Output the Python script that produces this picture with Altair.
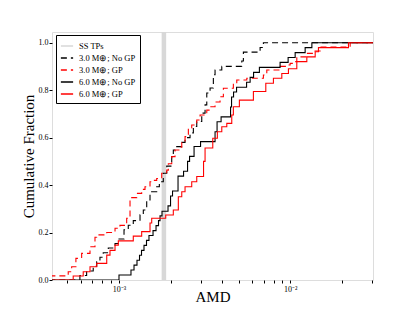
import altair as alt
import pandas as pd

series_names = ["SS TPs", "3.0 M⊕; No GP", "3.0 M⊕; GP", "6.0 M⊕; No GP", "6.0 M⊕; GP"]
series_colors = ["#d8d8d8", "#000000", "#ff0000", "#000000", "#ff0000"]
series_dashes = [[1, 0], [6, 4], [6, 4], [1, 0], [1, 0]]

ss_tp_amd = [1.83e-3]

# 3.0 M_earth; No GP (black dashed)
bd_x = [5.91e-4, 6.47e-4, 7.07e-4, 7.41e-4, 7.74e-4, 8.09e-4, 8.66e-4, 9.48e-4, 1.000e-3,
        1.070e-3, 1.133e-3, 1.212e-3, 1.327e-3, 1.387e-3, 1.452e-3, 1.518e-3, 1.661e-3,
        1.721e-3, 1.815e-3, 1.901e-3, 2.033e-3, 2.077e-3, 2.175e-3, 2.327e-3, 2.432e-3,
        2.601e-3, 2.720e-3, 2.847e-3, 3.045e-3, 3.184e-3, 3.258e-3, 3.406e-3, 3.560e-3,
        3.642e-3, 3.987e-3, 5.218e-3, 5.332e-3, 6.677e-3, 6.980e-3]
bd_y = [0.019, 0.038, 0.058, 0.077, 0.096, 0.115, 0.135, 0.154, 0.173, 0.212, 0.231, 0.25,
        0.275, 0.295, 0.337, 0.372, 0.393, 0.414, 0.45, 0.48, 0.52, 0.548, 0.562, 0.58, 0.6,
        0.62, 0.647, 0.668, 0.703, 0.738, 0.788, 0.809, 0.865, 0.885, 0.9, 0.923, 0.96, 0.98, 1.0]
bd_start = 0.0

# 3.0 M_earth; GP (red dashed)
rd_x = [5.05e-4, 5.29e-4, 5.60e-4, 6.05e-4, 6.77e-4, 7.24e-4, 7.41e-4, 8.48e-4, 9.48e-4,
        1.013e-3, 1.109e-3, 1.160e-3, 1.187e-3, 1.269e-3, 1.357e-3, 1.419e-3, 1.518e-3,
        1.553e-3, 1.661e-3, 1.777e-3, 1.901e-3, 1.942e-3, 2.033e-3, 2.126e-3, 2.274e-3,
        2.327e-3, 2.432e-3, 2.543e-3, 2.661e-3, 2.847e-3, 2.977e-3, 3.258e-3, 3.406e-3,
        3.642e-3, 3.896e-3, 4.073e-3, 4.659e-3, 4.878e-3, 5.582e-3, 6.980e-3, 7.306e-3,
        8.738e-3, 9.566e-3, 1.000e-2, 1.045e-2, 1.094e-2, 1.252e-2, 1.369e-2, 1.497e-2, 2.243e-2]
rd_y = [0.035, 0.056, 0.091, 0.112, 0.14, 0.18, 0.19, 0.2, 0.218, 0.23, 0.26, 0.337, 0.347,
        0.365, 0.382, 0.393, 0.414, 0.42, 0.428, 0.45, 0.463, 0.49, 0.52, 0.548, 0.56, 0.583,
        0.604, 0.64, 0.653, 0.674, 0.695, 0.716, 0.73, 0.75, 0.772, 0.808, 0.829, 0.843, 0.85,
        0.864, 0.885, 0.9, 0.906, 0.913, 0.92, 0.94, 0.955, 0.965, 0.982, 1.0]
rd_start = 0.0175

# 6.0 M_earth; No GP (black solid)
bs_x = [1.000e-3, 1.175e-3, 1.224e-3, 1.274e-3, 1.318e-3, 1.354e-3, 1.400e-3, 1.448e-3,
        1.497e-3, 1.581e-3, 1.646e-3, 1.702e-3, 1.737e-3, 1.784e-3, 1.934e-3, 2.001e-3,
        2.055e-3, 2.213e-3, 2.384e-3, 2.516e-3, 2.585e-3, 2.746e-3, 2.997e-3, 3.642e-3,
        3.742e-3, 3.950e-3, 4.487e-3, 4.548e-3, 4.672e-3, 4.865e-3, 5.567e-3, 5.839e-3,
        6.116e-3, 6.614e-3, 8.738e-3, 9.734e-3, 1.070e-2, 1.224e-2, 1.340e-2]
bs_y = [0.021, 0.042, 0.0625, 0.083, 0.104, 0.125, 0.146, 0.167, 0.1875, 0.208, 0.229, 0.25,
        0.27, 0.29, 0.3125, 0.354, 0.375, 0.4375, 0.458, 0.5, 0.521, 0.5625, 0.583, 0.625,
        0.667, 0.6875, 0.729, 0.771, 0.792, 0.8125, 0.833, 0.854, 0.875, 0.896, 0.917,
        0.9375, 0.958, 0.979, 1.0]
bs_start = 0.0

# 6.0 M_earth; GP (red solid)
rs_x = [5.40e-4, 6.18e-4, 6.77e-4, 7.41e-4, 8.48e-4, 8.86e-4, 9.48e-4, 9.91e-4, 1.212e-3,
        1.357e-3, 1.518e-3, 1.553e-3, 1.875e-3, 2.077e-3, 2.222e-3, 2.327e-3, 2.432e-3,
        2.661e-3, 2.847e-3, 3.120e-3, 3.184e-3, 3.532e-3, 3.757e-3, 3.987e-3, 4.265e-3,
        4.560e-3, 4.659e-3, 5.052e-3, 6.101e-3, 7.209e-3, 7.987e-3, 8.942e-3, 9.775e-3,
        1.094e-2, 1.252e-2, 1.401e-2, 1.464e-2, 2.192e-2]
rs_y = [0.017, 0.035, 0.056, 0.07, 0.105, 0.125, 0.147, 0.165, 0.185, 0.204, 0.24, 0.26,
        0.274, 0.295, 0.351, 0.372, 0.393, 0.414, 0.436, 0.5, 0.556, 0.597, 0.625, 0.646,
        0.66, 0.695, 0.73, 0.758, 0.794, 0.829, 0.85, 0.87, 0.89, 0.92, 0.94, 0.962, 0.979, 1.0]
rs_start = 0.0

x_domain = [4.06e-4, 3.05e-2]
y_domain = [0.0, 1.045]
x_ticks = [4e-4, 5e-4, 6e-4, 7e-4, 8e-4, 9e-4, 1e-3, 2e-3, 3e-3, 4e-3, 5e-3, 6e-3, 7e-3,
           8e-3, 9e-3, 1e-2, 2e-2, 3e-2]
y_ticks = [0.0, 0.2, 0.4, 0.6, 0.8, 1.0]

rows = []
for name, xs, ys, y0 in [
    (series_names[1], bd_x, bd_y, bd_start),
    (series_names[2], rd_x, rd_y, rd_start),
    (series_names[3], bs_x, bs_y, bs_start),
    (series_names[4], rs_x, rs_y, rs_start),
]:
    rows.append({"series": name, "amd": 2e-4, "frac": y0})
    for xv, yv in zip(xs, ys):
        rows.append({"series": name, "amd": xv, "frac": yv})
    rows.append({"series": name, "amd": 5e-2, "frac": 1.0})
df = pd.DataFrame(rows)
band_df = pd.DataFrame({"series": [series_names[0]], "amd": ss_tp_amd})

color_scale = alt.Scale(domain=series_names, range=series_colors)
dash_scale = alt.Scale(domain=series_names, range=series_dashes)
x_scale = alt.Scale(type="log", domain=x_domain, nice=False)

legend = alt.Legend(
    title=None, orient="none", legendX=4, legendY=3,
    fillColor="white", strokeColor="black", padding=4, rowPadding=0,
    labelFont="Liberation Serif", labelFontSize=8.5, labelFontWeight="normal",
    symbolType="stroke", symbolSize=150, symbolStrokeWidth=1.3, cornerRadius=0,
    labelOffset=5,
)

band = alt.Chart(band_df).mark_rule(strokeWidth=4.5).encode(
    x=alt.X("amd:Q", scale=x_scale),
    color=alt.Color("series:N", scale=color_scale, legend=legend),
    strokeDash=alt.StrokeDash("series:N", scale=dash_scale, legend=legend),
)

lines = alt.Chart(df).mark_line(interpolate="step-after", clip=True, strokeWidth=1.1).encode(
    x=alt.X("amd:Q", scale=x_scale, title="AMD",
            axis=alt.Axis(values=x_ticks, grid=False, tickSize=3,
                          labelExpr="datum.value == 0.001 ? '10⁻³' : (datum.value == 0.01 ? '10⁻²' : '')",
                          labelFont="Liberation Serif", labelFontSize=8, labelPadding=2,
                          titleFont="Liberation Serif", titleFontSize=15, titleFontWeight="normal",
                          titleY=21, titleBaseline="alphabetic",
                          domain=False, tickColor="black", labelColor="black",
                          titleColor="black")),
    y=alt.Y("frac:Q", scale=alt.Scale(domain=y_domain, nice=False), title="Cumulative Fraction",
            axis=alt.Axis(values=y_ticks, format=".1f", grid=False, tickSize=3,
                          labelFont="Liberation Serif", labelFontSize=8, labelPadding=1,
                          titleFont="Liberation Serif", titleFontSize=15, titleFontWeight="normal",
                          titleX=-19, titleY=124, titleAngle=-90, titleBaseline="alphabetic",
                          titleAlign="center",
                          domain=False, tickColor="black", labelColor="black",
                          titleColor="black")),
    color=alt.Color("series:N", scale=color_scale, legend=legend),
    strokeDash=alt.StrokeDash("series:N", scale=dash_scale, legend=legend),
    order="amd:Q",
)

chart = alt.layer(band, lines).properties(
    width=321, height=248,
    autosize=alt.AutoSizeParams(type="none"),
    padding={"left": 44, "top": 24, "right": 10, "bottom": 24},
).configure_view(stroke="black", strokeWidth=1).configure(background="white")

chart.save("out.html", embed_options={"renderer": "svg", "actions": False})
